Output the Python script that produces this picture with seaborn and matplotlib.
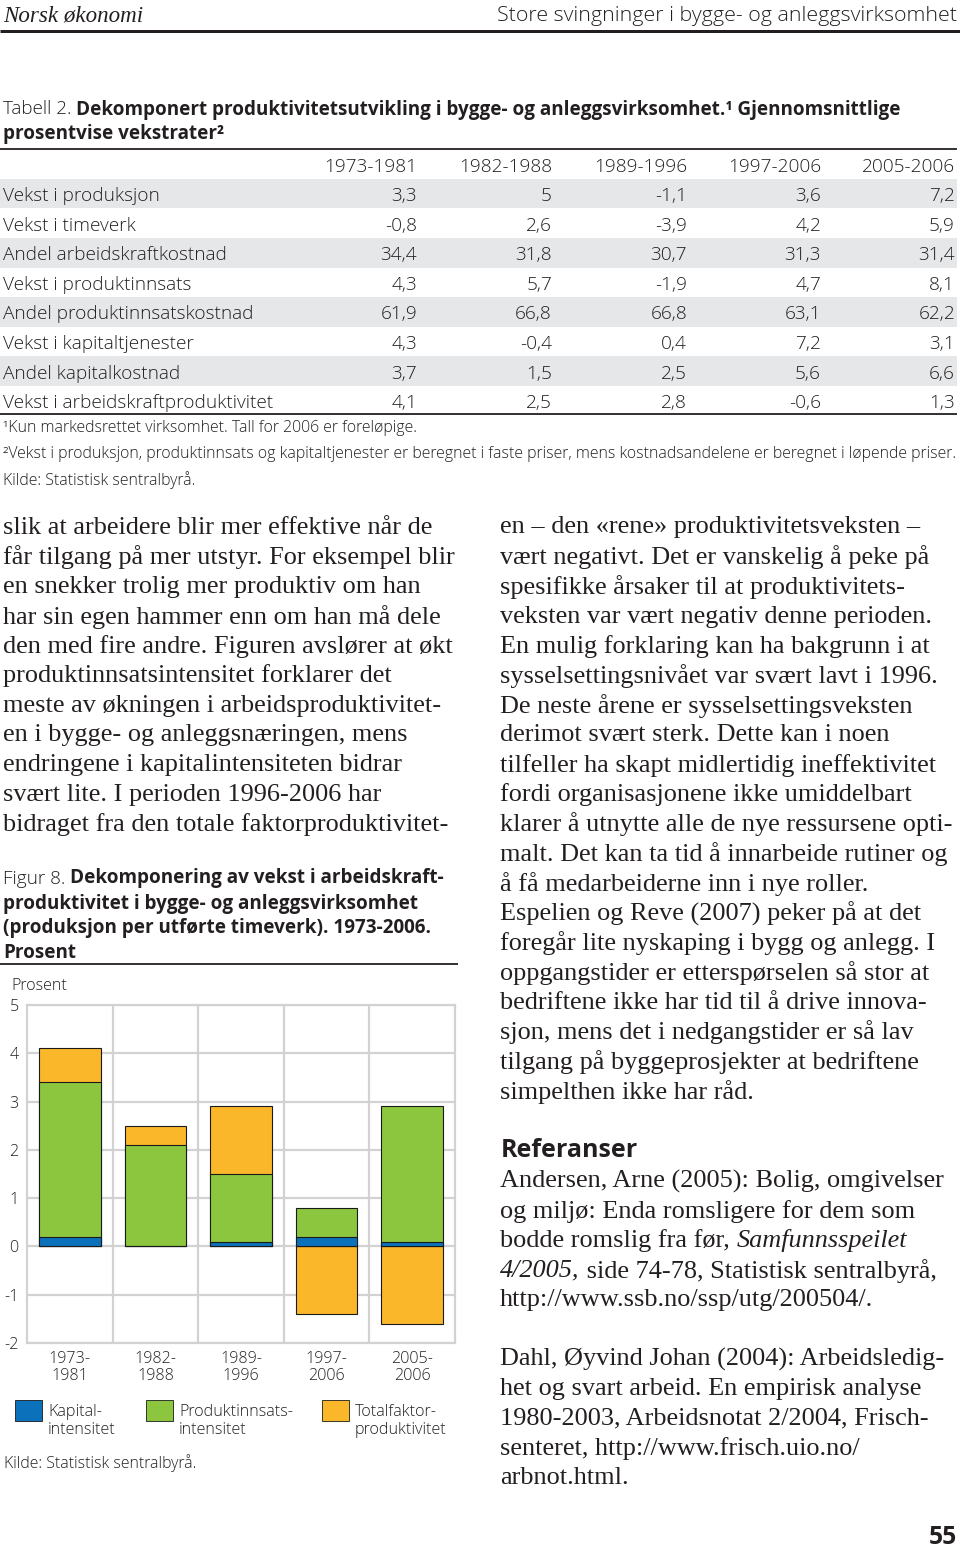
import numpy as np
import pandas as pd
import seaborn as sns
import matplotlib
matplotlib.use("Agg")
import matplotlib.pyplot as plt
from matplotlib.patches import Rectangle
from matplotlib.lines import Line2D

sns.set_theme(style="white")
plt.rcParams["font.family"] = ["Open Sans", "DejaVu Sans"]

# ---------------- data ----------------
periods = ["1973-1981", "1982-1988", "1989-1996", "1997-2006", "2005-2006"]
kapital = [0.2, 0.0, 0.1, 0.2, 0.1]
produktinnsats = [3.2, 2.1, 1.4, 0.6, 2.8]
totalfaktor = [0.7, 0.4, 1.4, -1.4, -1.6]
y_ticks = [-2, -1, 0, 1, 2, 3, 4, 5]
legend_labels = ["Kapital-\nintensitet", "Produktinnsats-\nintensitet", "Totalfaktor-\nproduktivitet"]
series_colors = ["#0b71bb", "#8cc63f", "#fbb72a"]

table_rows = ["Vekst i produksjon", "Vekst i timeverk", "Andel arbeidskraftkostnad",
              "Vekst i produktinnsats", "Andel produktinnsatskostnad", "Vekst i kapitaltjenester",
              "Andel kapitalkostnad", "Vekst i arbeidskraftproduktivitet"]
tab_1973 = ["3,3", "-0,8", "34,4", "4,3", "61,9", "4,3", "3,7", "4,1"]
tab_1982 = ["5", "2,6", "31,8", "5,7", "66,8", "-0,4", "1,5", "2,5"]
tab_1989 = ["-1,1", "-3,9", "30,7", "-1,9", "66,8", "0,4", "2,5", "2,8"]
tab_1997 = ["3,6", "4,2", "31,3", "4,7", "63,1", "7,2", "5,6", "-0,6"]
tab_2005 = ["7,2", "5,9", "31,4", "8,1", "62,2", "3,1", "6,6", "1,3"]

left_text = [
    "slik at arbeidere blir mer effektive når de",
    "får tilgang på mer utstyr. For eksempel blir",
    "en snekker trolig mer produktiv om han",
    "har sin egen hammer enn om han må dele",
    "den med fire andre. Figuren avslører at økt",
    "produktinnsatsintensitet forklarer det",
    "meste av økningen i arbeidsproduktivitet-",
    "en i bygge- og anleggsnæringen, mens",
    "endringene i kapitalintensiteten bidrar",
    "svært lite. I perioden 1996-2006 har",
    "bidraget fra den totale faktorproduktivitet-",
]
right_text = [
    "en – den «rene» produktivitetsveksten –",
    "vært negativt. Det er vanskelig å peke på",
    "spesifikke årsaker til at produktivitets-",
    "veksten var vært negativ denne perioden.",
    "En mulig forklaring kan ha bakgrunn i at",
    "sysselsettingsnivået var svært lavt i 1996.",
    "De neste årene er sysselsettingsveksten",
    "derimot svært sterk. Dette kan i noen",
    "tilfeller ha skapt midlertidig ineffektivitet",
    "fordi organisasjonene ikke umiddelbart",
    "klarer å utnytte alle de nye ressursene opti-",
    "malt. Det kan ta tid å innarbeide rutiner og",
    "å få medarbeiderne inn i nye roller.",
    "Espelien og Reve (2007) peker på at det",
    "foregår lite nyskaping i bygg og anlegg. I",
    "oppgangstider er etterspørselen så stor at",
    "bedriftene ikke har tid til å drive innova-",
    "sjon, mens det i nedgangstider er så lav",
    "tilgang på byggeprosjekter at bedriftene",
    "simpelthen ikke har råd.",
]

# ---------------- page setup ----------------
W, H = 960, 1550
INK = "#231f20"
DY = 2.5  # vertical text offset (px)
fig = plt.figure(figsize=(9.6, 15.5), dpi=100)
fig.patch.set_facecolor("white")
renderer = fig.canvas.get_renderer()

SANS = dict(family=["Open Sans", "DejaVu Sans"], weight="light")
SANS_B = dict(family=["Open Sans", "DejaVu Sans"], weight="bold")
SERIF = dict(family=["Liberation Serif", "DejaVu Serif"])
SERIF_I = dict(family=["Liberation Serif", "DejaVu Serif"], style="italic")


def fx(x):
    return x / W


def fy(y):
    return 1 - y / H


def text_w(s, size, font):
    t = fig.text(0, 0, s, fontsize=size, **font)
    w = t.get_window_extent(renderer=renderer).width
    t.remove()
    return w


def adv(s, size, font):
    return text_w(s + "|", size, font) - text_w("|", size, font)


def fit(s, target, font):
    return 10 * target / text_w(s, 10, font)


def T(x, y, s, size, font, ha="left", va="center", color=INK, **kw):
    return fig.text(fx(x), fy(y + DY), s, fontsize=size, ha=ha, va=va, color=color, **font, **kw)


def segs(x, y, parts, size, ha="left"):
    widths = [adv(s, size, f) for s, f in parts]
    cur = x - sum(widths) if ha == "right" else x
    for (s, f), w in zip(parts, widths):
        T(cur, y, s, size, f)
        cur += w


def hline(x0, x1, y, lw_px, color=INK):
    fig.add_artist(Line2D([fx(x0), fx(x1)], [fy(y), fy(y)], transform=fig.transFigure,
                          lw=lw_px * 0.72, color=color, solid_capstyle="butt"))


# ---------------- header ----------------
s_head_l = fit("Norsk økonomi", 140, SERIF_I)
T(3, 14, "Norsk økonomi", s_head_l, SERIF_I)
head_r = "Store svingninger i bygge- og anleggsvirksomhet"
s_head_r = fit(head_r, 460, SANS)
T(957, 14, head_r, s_head_r, SANS, ha="right")
hline(0, 960, 31, 3)

# ---------------- table ----------------
s_tab = fit("Vekst i arbeidskraftproduktivitet", 269, SANS)
title1 = [("Tabell 2. ", SANS),
          ("Dekomponert produktivitetsutvikling i bygge- og anleggsvirksomhet.¹ Gjennomsnittlige", SANS_B)]
w_t1 = sum(adv(s, 10, f) for s, f in title1)
s_title = 10 * 896 / w_t1
segs(3, 107, title1, s_title)
segs(3, 132, [("prosentvise vekstrater²", SANS_B)], s_title)

hline(0, 957, 149, 1.8)
col_right = [417, 552, 687, 821, 955]
for cx, lab in zip(col_right, periods):
    T(cx, 164, lab, s_tab, SANS, ha="right")
row_y0, row_h = 193.5, 29.6
cols = [tab_1973, tab_1982, tab_1989, tab_1997, tab_2005]
for i, lab in enumerate(table_rows):
    cy = row_y0 + i * row_h
    if i % 2 == 0:
        fig.add_artist(Rectangle((fx(0), fy(cy + row_h / 2)), fx(957), row_h / H,
                                 transform=fig.transFigure, facecolor="#e6e7e8",
                                 edgecolor="none", zorder=0))
    T(3, cy, lab, s_tab, SANS)
    for cx, col in zip(col_right, cols):
        T(cx, cy, col[i], s_tab, SANS, ha="right")
hline(0, 957, 414, 1.8)

fn2 = "²Vekst i produksjon, produktinnsats og kapitaltjenester er beregnet i faste priser, mens kostnadsandelene er beregnet i løpende priser."
s_fn = fit(fn2, 952, SANS)
T(3, 426, "¹Kun markedsrettet virksomhet. Tall for 2006 er foreløpige.", s_fn, SANS)
T(3, 452, fn2, s_fn, SANS)
T(3, 478, "Kilde: Statistisk sentralbyrå.", s_fn, SANS)

# ---------------- body text ----------------
s_body = fit("får tilgang på mer utstyr. For eksempel blir", 450, SERIF)
lh = 29.7
for i, line in enumerate(left_text):
    T(3, 525 + i * lh, line, s_body, SERIF)
for i, line in enumerate(right_text):
    T(500, 525 + i * lh, line, s_body, SERIF)

# ---------------- figure caption ----------------
s_cap = fit("produktivitet i bygge- og anleggsvirksomhet", 416, SANS_B)
segs(3, 876, [("Figur 8. ", SANS), ("Dekomponering av vekst i arbeidskraft-", SANS_B)], s_cap)
T(3, 901, "produktivitet i bygge- og anleggsvirksomhet", s_cap, SANS_B)
T(3, 925, "(produksjon per utførte timeverk). 1973-2006.", s_cap, SANS_B)
T(3, 950, "Prosent", s_cap, SANS_B)
hline(0, 458, 964, 1.8)

# ---------------- chart ----------------
s_tick = fit("1973-", 42, SANS)
ax = fig.add_axes([fx(27), fy(1343), (455 - 27) / W, (1343 - 1005) / H])
ax.set_facecolor("white")

kap = np.array(kapital)
pi = np.array(produktinnsats)
tf = np.array(totalfaktor)
layer_tf = np.where(tf > 0, kap + pi + tf, tf)
layer_pi = kap + pi
layer_kap = kap

for vals, col in [(layer_tf, series_colors[2]), (layer_pi, series_colors[1]), (layer_kap, series_colors[0])]:
    sns.barplot(x=periods, y=vals, color=col, saturation=1, width=0.72, errorbar=None,
                edgecolor="#1a1a1a", linewidth=0.8, ax=ax, zorder=3)

ax.set_xlim(-0.5, 4.5)
ax.set_ylim(-2, 5)
ax.set_yticks(y_ticks)
ax.set_yticklabels([str(v) for v in y_ticks])
ax.set_xticks(range(len(periods)))
ax.set_xticklabels([p.replace("-", "-\n") for p in periods], linespacing=1.15)
ax.set_xticks([0.5, 1.5, 2.5, 3.5], minor=True)
ax.set_xlabel("")
ax.set_ylabel("")
grid_col = "#d2d2d2"
ax.grid(False)
ax.grid(True, which="minor", axis="x", color=grid_col, lw=1.6)
ax.grid(True, which="major", axis="y", color=grid_col, lw=1.6)
ax.set_axisbelow(True)
for sp in ax.spines.values():
    sp.set_color(grid_col)
    sp.set_linewidth(1.6)
ax.tick_params(axis="both", which="both", length=0, colors=INK, labelsize=s_tick)
ax.tick_params(axis="y", pad=6)
ax.tick_params(axis="x", pad=5.5)
for lab in ax.get_xticklabels() + ax.get_yticklabels():
    lab.set_fontweight("light")
    lab.set_color(INK)

T(11, 984, "Prosent", s_tick, SANS)

# legend
leg_x = [15, 146, 322]
for lx, col, lab in zip(leg_x, series_colors, legend_labels):
    fig.add_artist(Rectangle((fx(lx), fy(1421)), 27 / W, 21 / H, transform=fig.transFigure,
                             facecolor=col, edgecolor="#1a1a1a", lw=0.6))
    for j, part in enumerate(lab.split("\n")):
        T(lx + 33, 1410 + j * 17, part, s_tick, SANS)

T(4, 1461, "Kilde: Statistisk sentralbyrå.", s_fn, SANS)

# ---------------- references ----------------
s_ref_h = fit("Referanser", 137, SANS_B)
T(501, 1148, "Referanser", s_ref_h, SANS_B)
ref_y = 1179
segs(500, ref_y, [("Andersen, Arne (2005): Bolig, omgivelser", SERIF)], s_body)
segs(500, ref_y + lh, [("og miljø: Enda romsligere for dem som", SERIF)], s_body)
segs(500, ref_y + 2 * lh, [("bodde romslig fra før, ", SERIF), ("Samfunnsspeilet", SERIF_I)], s_body)
segs(500, ref_y + 3 * lh, [("4/2005,", SERIF_I), (" side 74-78, Statistisk sentralbyrå,", SERIF)], s_body)
segs(500, ref_y + 4 * lh, [("http://www.ssb.no/ssp/utg/200504/.", SERIF)], s_body)

dahl = ["Dahl, Øyvind Johan (2004): Arbeidsledig-",
        "het og svart arbeid. En empirisk analyse",
        "1980-2003, Arbeidsnotat 2/2004, Frisch-",
        "senteret, http://www.frisch.uio.no/",
        "arbnot.html."]
for i, line in enumerate(dahl):
    T(500, 1357 + i * lh, line, s_body, SERIF)

s_pg = fit("55", 28, SANS_B)
T(957, 1535, "55", s_pg, SANS_B, ha="right")

fig.savefig("out.png", dpi=100, facecolor="white")
